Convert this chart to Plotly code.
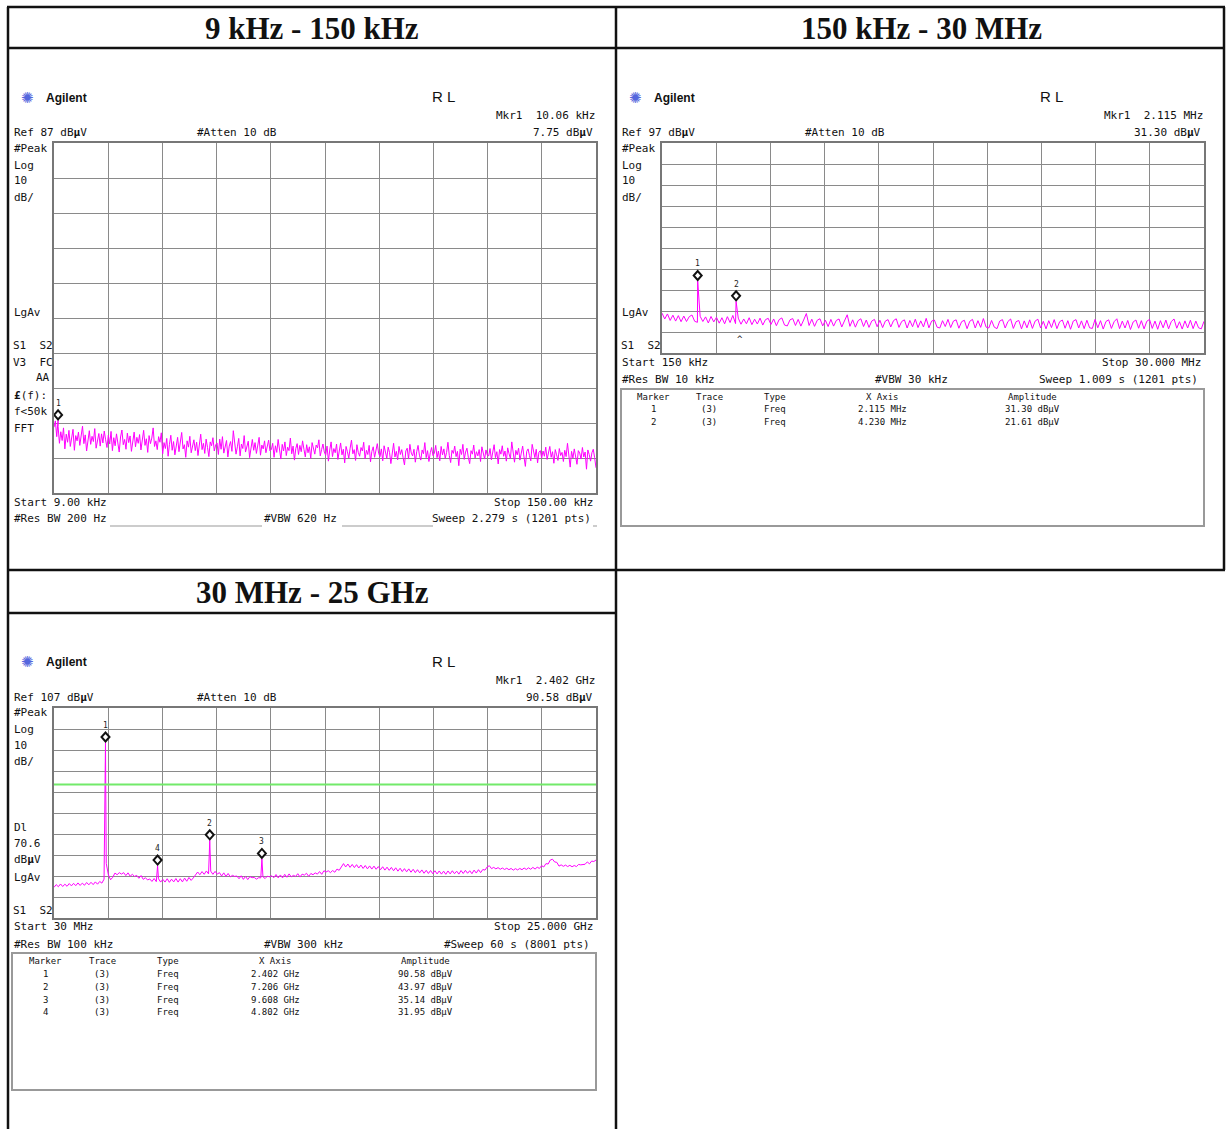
import numpy as np
import plotly.graph_objects as go

W, H = 1226, 1129

# ---------------- data ----------------
titles = ["9 kHz - 150 kHz", "150 kHz - 30 MHz", "30 MHz - 25 GHz"]

# Panel A: 9 kHz - 150 kHz (kHz, dBuV)
a_start, a_stop, a_ref = 9.0, 150.0, 87
a_noise = [
    5.8, 7.6, 3.1, 6.0, 1.2, 4.5, 2.0, 5.6, -0.4, 3.8, 1.5, 4.9, 0.3, 2.7, 5.2, -0.8, 3.4, 1.9, 4.4, 0.6,
    2.9, 6.1, 1.1, 3.6, -1.0, 2.4, 4.8, 0.9, 3.2, 1.7, 5.4, -0.2, 2.6, 4.0, 0.4, 3.9, 1.3, 4.7, 2.2, 0.0,
    3.5, 1.0, 4.6, -0.9, 2.8, 0.5, 3.9, 1.6, -1.3, 3.0, 5.0, 0.8, 2.3, -0.5, 4.1, 1.4, 3.3, -1.1, 2.0, 4.4,
    0.2, 2.9, 1.2, 3.7, -0.7, 1.8, 4.9, 0.6, 2.5, -1.4, 3.4, 1.1, 2.7, 5.6, 0.3, 1.9, -0.6, 3.1, 1.5, 4.2,
    -1.8, 1.4, -0.3, 2.6, -2.5, 0.9, 3.5, -0.8, 1.7, -2.1, 0.4, 2.9, -1.2, 1.1, 4.3, -0.4, 0.8, -2.8, 1.9, 0.1,
    3.2, -1.5, 0.6, 2.2, -0.9, 1.5, -2.3, 0.3, 3.8, -0.6, 1.2, -1.7, 2.4, 0.0, -2.6, 1.6, 0.5, 2.8, -1.0, 0.7,
    1.3, -2.0, 2.4, -0.5, 3.1, -1.6, 0.8, 2.0, -2.7, 0.4, 1.7, -1.1, 4.8, 0.9, -1.9, 0.2, 2.6, -2.4, 1.0, -0.3,
    3.4, -1.3, 0.6, 1.8, -2.9, 0.1, 2.3, -0.8, 1.4, -1.7, 0.5, 2.9, -2.2, 0.7, -0.4, 1.9, -1.5, 0.3, 2.1, -1.0,
    -0.6, 1.2, -2.8, 0.5, -1.4, 2.3, -0.2, -3.3, 0.9, -1.0, 1.6, -2.3, 0.1, -0.9, 2.7, -1.8, 0.4, -3.6, -0.3, 1.1,
    -2.0, 0.6, -1.2, 1.9, -0.5, -2.7, 0.8, -1.5, 0.2, -3.1, 1.4, -0.8, -1.9, 0.7, -0.1, 2.2, -2.4, -0.6, 1.0, -1.3,
    -2.2, 0.4, -3.9, -0.7, 1.6, -2.6, -0.3, -1.5, 1.0, -3.4, -0.9, 1.3, -2.1, -0.5, -4.4, 0.3, -1.2, -3.0, -0.2, 2.1,
    -1.8, -0.6, -3.7, 0.8, -1.4, -2.5, 0.0, -1.0, 1.5, -3.2, -0.8, -2.0, 0.6, -4.1, -1.1, 0.2, -2.8, -0.4, 1.1, -1.7,
    -2.6, -0.4, -3.8, 0.5, -1.9, -3.1, 0.1, -1.4, -4.6, -0.8, 1.2, -2.7, -1.1, -3.5, 0.3, -2.0, -0.6, -2.9, -5.0, -1.0,
    -0.2, -3.3, 0.9, -1.6, -2.4, -0.5, -4.2, -1.2, 0.6, -2.2, -3.6, -0.7, -1.8, 1.4, -2.9, -0.9, -4.0, -1.5, 0.0, -2.3,
    -1.6, 0.6, -2.9, -1.0, -3.8, 0.3, -2.1, -0.4, -3.1, -1.4, 1.5, -2.3, -4.3, -0.8, -1.7, 0.4, -2.6, -1.1, -5.2, -0.5,
    -2.0, 0.9, -3.4, -1.3, -0.2, -2.8, -4.6, -0.9, -1.9, 0.7, -3.0, -1.2, -2.4, -0.6, -4.0, 0.2, -1.5, -3.3, -0.7, -2.2,
    -2.4, -0.3, -3.5, -1.5, 0.8, -2.9, -1.2, -4.7, -0.6, -1.9, 0.5, -2.5, -1.0, -3.9, -0.1, -1.8, -3.2, 1.6, -1.4, -4.2,
    -0.8, -2.1, -0.2, -3.6, -1.6, 0.4, -2.7, -5.4, -1.1, -0.4, -2.3, -3.8, 0.9, -1.7, -2.9, -0.5, -4.4, -1.3, -0.9, -3.0,
    -1.0, -2.5, 0.1, -3.4, -1.7, 0.3, -2.8, -1.2, -4.5, -0.6, -2.1, -3.7, -0.3, -2.3, -1.4, -4.0, -0.8, -2.6, 1.2, -1.9,
    -5.6, -1.1, -3.0, -0.4, -2.2, -4.8, -0.9, -1.6, -3.3, 0.0, -2.7, -1.3, -6.2, -0.7, -2.0, -3.9, -1.5, -0.5, -2.9, -5.8,
]
a_markers = [("1", 10.06, 7.75)]

# Panel B: 150 kHz - 30 MHz (MHz, dBuV)
b_start, b_stop, b_ref = 0.15, 30.0, 97
b_noise = [
    16.0, 13.2, 15.6, 12.5, 15.0, 12.2, 14.8, 11.9, 14.6, 12.0, 14.3, 15.1, 12.1, 11.6, 14.5, 12.0, 14.2, 11.3, 14.4, 11.8,
    14.0, 11.2, 13.8, 10.9, 14.3, 11.5, 14.9, 11.0, 13.6, 10.7, 13.2, 10.9, 13.8, 10.5, 13.1, 10.8, 13.6, 10.3, 12.9, 13.5,
    10.6, 13.2, 10.0, 12.9, 13.7, 10.3, 9.9, 12.8, 13.4, 10.1, 13.0, 9.8, 12.7, 15.8, 10.1, 13.1, 9.7, 12.6, 13.3, 9.9,
    12.6, 9.6, 13.0, 9.8, 12.5, 13.2, 9.4, 12.3, 15.2, 9.7, 12.8, 9.3, 12.4, 13.3, 9.6, 12.7, 9.2, 12.2, 13.0, 9.5,
    12.6, 9.1, 12.2, 12.9, 9.4, 12.4, 13.3, 9.2, 12.0, 12.8, 8.9, 12.5, 9.5, 13.1, 9.1, 12.3, 9.4, 13.5, 9.0, 12.2,
    12.7, 9.3, 8.9, 12.4, 9.6, 13.0, 9.1, 12.2, 12.8, 8.8, 11.9, 12.6, 8.6, 12.1, 13.0, 8.9, 12.4, 9.2, 13.4, 9.3,
    8.9, 12.5, 9.3, 8.6, 12.2, 12.9, 8.9, 12.0, 13.2, 8.7, 11.9, 12.5, 8.5, 12.3, 9.0, 12.8, 8.7, 12.2, 13.1, 8.9,
    12.1, 8.5, 12.4, 9.1, 12.9, 8.6, 11.9, 12.7, 8.8, 12.4, 8.3, 12.2, 12.9, 8.9, 12.3, 8.6, 12.6, 9.0, 8.7, 13.0,
    9.0, 12.4, 8.4, 12.0, 12.8, 8.7, 11.9, 13.3, 8.6, 12.2, 8.9, 12.5, 8.2, 11.8, 12.7, 8.8, 12.4, 8.5, 12.1, 13.0,
    8.7, 12.2, 8.3, 12.4, 9.0, 12.7, 8.5, 12.0, 13.2, 8.8, 11.9, 8.4, 12.3, 8.9, 12.6, 8.6, 12.2, 9.0, 8.5, 12.1,
]
b_markers = [("1", 2.115, 31.30), ("2", 4.230, 21.61)]

# Panel C: 30 MHz - 25 GHz (GHz, dBuV)
c_start, c_stop, c_ref = 0.03, 25.0, 107
c_noise = [
    21.6, 22.9, 21.9, 23.2, 22.0, 23.1, 22.1, 23.4, 22.3, 23.5, 22.4, 23.7, 22.5, 23.6, 22.6, 23.9, 22.8, 24.0, 22.9, 24.2, 23.1, 24.4, 23.6, 25.5, 33.0,
    27.5, 25.2, 26.4, 28.4, 27.6, 28.6, 27.9, 28.6, 27.2, 28.5, 26.9, 27.8, 26.8, 27.3, 25.9, 27.2, 25.4, 26.2, 25.1, 25.6, 24.4, 25.8, 24.3, 25.7, 24.1,
    25.4, 24.1, 25.7, 24.0, 25.5, 24.2, 25.8, 24.1, 25.7, 24.2, 26.0, 24.5, 26.3, 24.9, 26.1, 27.6, 28.9, 27.6, 29.1, 27.8, 29.4, 28.0, 29.3, 27.8, 29.2,
    27.9, 28.6, 27.0, 28.5, 26.8, 28.2, 26.6, 27.3, 26.8, 27.0, 25.7, 27.1, 25.4, 26.8, 25.3, 26.7, 26.2, 26.3, 25.5, 26.2, 26.1, 26.6, 25.8, 26.9, 26.6,
    27.1, 26.2, 27.7, 26.1, 27.5, 26.1, 27.8, 26.4, 28.0, 26.6, 27.3, 26.8, 28.1, 26.5, 27.9, 27.4, 28.3, 26.8, 28.2, 27.6, 28.5, 27.9, 29.1, 27.8, 29.5,
    28.9, 29.5, 28.6, 29.6, 28.8, 30.3, 29.7, 31.5, 32.9, 31.3, 32.7, 31.1, 32.5, 31.0, 32.4, 30.8, 32.2, 30.6, 32.0, 30.4, 31.8, 30.3, 31.7, 30.2, 31.5,
    30.0, 31.4, 29.8, 31.2, 29.7, 31.1, 29.5, 30.9, 29.3, 30.7, 29.1, 30.5, 29.0, 30.4, 28.8, 30.2, 28.6, 30.0, 28.5, 29.9, 28.3, 29.7, 28.2, 29.6, 28.1,
    29.5, 28.0, 29.4, 27.9, 29.3, 27.8, 29.4, 28.0, 29.5, 28.1, 29.3, 27.9, 29.6, 28.2, 29.7, 28.3, 29.5, 28.1, 29.8, 28.4, 30.0, 28.6, 30.1, 29.8, 31.3,
    31.9, 30.5, 31.1, 30.4, 31.0, 30.2, 30.8, 30.1, 30.7, 30.0, 30.6, 29.8, 30.5, 29.9, 30.6, 30.0, 30.8, 30.1, 30.9, 30.2, 31.1, 30.3, 31.2, 30.6, 31.9,
    31.3, 32.9, 32.7, 34.6, 35.0, 33.7, 33.5, 31.7, 32.3, 31.6, 32.2, 31.5, 32.1, 31.4, 32.0, 31.5, 32.5, 32.3, 32.6, 32.6, 33.7, 32.8, 34.1, 33.9, 34.6,
]
c_markers = [("1", 2.402, 90.58), ("2", 7.206, 43.97), ("3", 9.608, 35.14), ("4", 4.802, 31.95)]
c_display_line = 70.6

b_table_rows = [("1", "(3)", "Freq", "2.115 MHz", "31.30 dB\u00b5V"),
                ("2", "(3)", "Freq", "4.230 MHz", "21.61 dB\u00b5V")]
c_table_rows = [("1", "(3)", "Freq", "2.402 GHz", "90.58 dB\u00b5V"),
                ("2", "(3)", "Freq", "7.206 GHz", "43.97 dB\u00b5V"),
                ("3", "(3)", "Freq", "9.608 GHz", "35.14 dB\u00b5V"),
                ("4", "(3)", "Freq", "4.802 GHz", "31.95 dB\u00b5V")]
table_header = ["Marker", "Trace", "Type", "X Axis", "Amplitude"]

# ---------------- helpers ----------------
MAG = "#ff00ff"
GRID = "#8a8a8a"
MONO = "DejaVu Sans Mono"

def px(x):
    return x / W

def py(y):
    return 1 - y / H

annotations = []
shapes = []

def txt(x, y, s, size=11, anchor="left", family=MONO, color="#111", bold=False):
    if bold:
        s = "<b>" + s + "</b>"
    annotations.append(dict(x=px(x), y=py(y), xref="paper", yref="paper", text=s,
                            showarrow=False, xanchor=anchor, yanchor="middle",
                            font=dict(family=family, size=size, color=color)))

def hline(x0, x1, y, color="#111", width=2):
    shapes.append(dict(type="line", xref="paper", yref="paper", x0=px(x0), x1=px(x1),
                       y0=py(y), y1=py(y), line=dict(color=color, width=width)))

def vline(x, y0, y1, color="#111", width=2):
    shapes.append(dict(type="line", xref="paper", yref="paper", x0=px(x), x1=px(x),
                       y0=py(y0), y1=py(y1), line=dict(color=color, width=width)))

def rect(x0, y0, x1, y1, color="#999", width=2):
    shapes.append(dict(type="rect", xref="paper", yref="paper", x0=px(x0), x1=px(x1),
                       y0=py(y1), y1=py(y0), line=dict(color=color, width=width)))

def merge(start, stop, noise, spikes):
    xs = list(np.linspace(start, stop, len(noise)))
    ys = list(noise)
    for _, f, v in spikes:
        xs.append(f)
        ys.append(v)
    order = np.argsort(xs, kind="stable")
    return [xs[i] for i in order], [ys[i] for i in order]

fig = go.Figure()

panels = [
    ("", 54, 596, 143, 493, a_start, a_stop, a_ref, a_noise, a_markers),
    ("2", 662, 1204, 143, 353, b_start, b_stop, b_ref, b_noise, b_markers),
    ("3", 54, 596, 708, 918, c_start, c_stop, c_ref, c_noise, c_markers),
]

layout_axes = {}
for suf, x0, x1, yt, yb, st, sp, ref, noise, mk in panels:
    xs, ys = merge(st, sp, noise, mk)
    fig.add_trace(go.Scatter(x=xs, y=ys, mode="lines", line=dict(color=MAG, width=1),
                             xaxis="x" + suf, yaxis="y" + suf, hoverinfo="skip"))
    common = dict(showgrid=True, gridcolor=GRID, gridwidth=1, zeroline=False,
                  showticklabels=False, ticks="", showline=True, mirror=True,
                  linecolor="#777", linewidth=2, fixedrange=True)
    layout_axes["xaxis" + suf] = dict(domain=[px(x0), px(x1)], range=[st, sp],
                                      tick0=st, dtick=(sp - st) / 10,
                                      anchor="y" + suf, **common)
    layout_axes["yaxis" + suf] = dict(domain=[py(yb), py(yt)], range=[ref - 100, ref],
                                      tick0=ref - 100, dtick=10,
                                      anchor="x" + suf, **common)
    xr = "x" + suf
    yr = "y" + suf
    for lab, f, v in mk:
        shapes.append(dict(type="path", xref=xr, yref=yr, xsizemode="pixel", ysizemode="pixel",
                           xanchor=f, yanchor=v,
                           path="M 0 1 L 4 5.5 L 0 10 L -4 5.5 Z",
                           line=dict(color="#111", width=2), fillcolor="white"))
        annotations.append(dict(x=f, y=v, xref=xr, yref=yr, text=lab, showarrow=False,
                                yshift=17, font=dict(family=MONO, size=8, color="#222")))

# display line in panel C
shapes.append(dict(type="line", xref="x3", yref="y3", x0=c_start, x1=c_stop,
                   y0=c_display_line, y1=c_display_line,
                   line=dict(color="#72ea6a", width=2)))

# ---------------- table frame ----------------
hline(7, 1225, 7, width=2.5)
hline(7, 1225, 48, width=2.5)
hline(7, 1225, 570, width=2.5)
hline(7, 616, 613, width=2.5)
vline(8, 7, 1129, width=2.5)
vline(616, 7, 1129, width=2.5)
vline(1224, 7, 570, width=2.5)

SERIF = "Liberation Serif"
txt(312, 28, titles[0], size=31, anchor="center", family=SERIF, bold=True)
txt(921, 28, titles[1], size=31, anchor="center", family=SERIF, bold=True)
txt(312, 592, titles[2], size=31, anchor="center", family=SERIF, bold=True)

# ---------------- instrument header texts ----------------
def header(dx, dy, mkr_text, ref_text, amp_text):
    txt(27 + dx, 98 + dy, "\u273a", size=15, anchor="center", family="DejaVu Sans", color="#5566dd")
    txt(44 + dx, 98 + dy, "Agilent", size=12, family="Liberation Sans", bold=True)
    txt(443 + dx, 97 + dy, "R L", size=15, anchor="center", family="Liberation Sans")
    txt(597 + dx, 116 + dy, mkr_text, anchor="right")
    txt(12 + dx, 133 + dy, ref_text)
    txt(195 + dx, 133 + dy, "#Atten 10 dB")
    txt(595 + dx, 133 + dy, amp_text, anchor="right")
    for lab, yy in [("#Peak", 148), ("Log", 165), ("10", 181), ("dB/", 197)]:
        txt(12 + dx, yy + dy, lab)

# Panel A
header(0, 0, "Mkr1  10.06 kHz", "Ref 87 dB<b>\u00b5</b>V", "7.75 dB<b>\u00b5</b>V")
txt(12, 313, "LgAv")
txt(11, 345, "S1  S2")
txt(11, 362, "V3  FC")
txt(52, 378, "AA", anchor="right")
txt(12, 395, "<b>\u00a3</b>(f):")
txt(12, 411, "f&lt;50k")
txt(12, 428, "FFT")
txt(12, 502, "Start 9.00 kHz")
txt(595, 502, "Stop 150.00 kHz", anchor="right")
txt(12, 519, "#Res BW 200 Hz")
txt(262, 519, "#VBW 620 Hz")
txt(593, 519, "Sweep 2.279 s (1201 pts)", anchor="right")
hline(110, 262, 526, color="#999", width=1)
hline(342, 433, 526, color="#999", width=1)
hline(593, 597, 526, color="#999", width=1)

# Panel B
header(608, 0, "Mkr1  2.115 MHz", "Ref 97 dB<b>\u00b5</b>V", "31.30 dB<b>\u00b5</b>V")
txt(620, 313, "LgAv")
txt(619, 345, "S1  S2")
txt(740, 339, "^", size=9, anchor="center")
txt(620, 362, "Start 150 kHz")
txt(1203, 362, "Stop 30.000 MHz", anchor="right")
txt(620, 380, "#Res BW 10 kHz")
txt(873, 380, "#VBW 30 kHz")
txt(1200, 380, "Sweep 1.009 s (1201 pts)", anchor="right")
rect(621, 389, 1204, 526)
b_cols = [653, 709, 775, 882, 1032]
for c, h in zip(b_cols, table_header):
    txt(c, 397, h, size=9, anchor="center")
for r, row in enumerate(b_table_rows):
    for c, v in zip(b_cols, row):
        txt(c, 409 + 12.7 * r, v, size=9, anchor="center")

# Panel C
header(0, 564, "Mkr1  2.402 GHz", "Ref 107 dB<b>\u00b5</b>V", "90.58 dB<b>\u00b5</b>V")
txt(12, 827, "Dl")
txt(12, 843, "70.6")
txt(12, 859, "dB<b>\u00b5</b>V")
txt(12, 877, "LgAv")
txt(11, 910, "S1  S2")
txt(12, 926, "Start 30 MHz")
txt(595, 926, "Stop 25.000 GHz", anchor="right")
txt(12, 944, "#Res BW 100 kHz")
txt(262, 944, "#VBW 300 kHz")
txt(592, 944, "#Sweep 60 s (8001 pts)", anchor="right")
rect(12, 953, 596, 1090)
c_cols = [45, 102, 168, 275, 425]
for c, h in zip(c_cols, table_header):
    txt(c, 961, h, size=9, anchor="center")
for r, row in enumerate(c_table_rows):
    for c, v in zip(c_cols, row):
        txt(c, 974 + 12.8 * r, v, size=9, anchor="center")

fig.update_layout(width=W, height=H, margin=dict(l=0, r=0, t=0, b=0),
                  paper_bgcolor="white", plot_bgcolor="white", showlegend=False,
                  annotations=annotations, shapes=shapes, **layout_axes)

fig.write_html("out.html", config={"displayModeBar": False},
               post_script="document.body.style.margin='0';document.body.style.overflow='hidden';")
